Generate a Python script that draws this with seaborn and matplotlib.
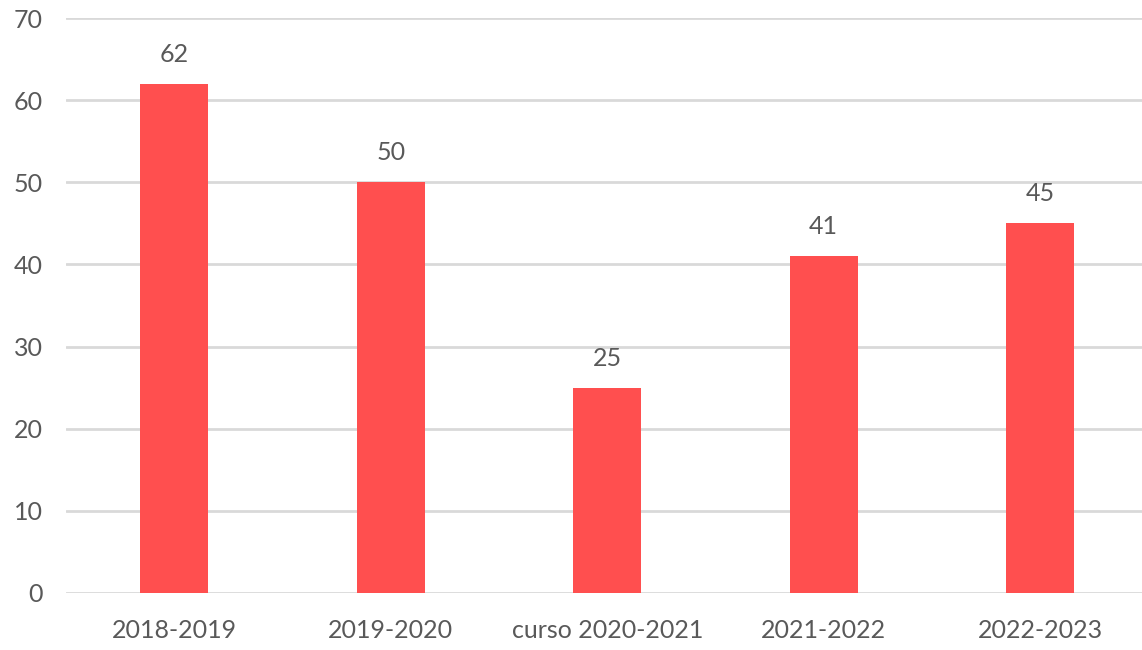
import pandas as pd
import seaborn as sns
import matplotlib.pyplot as plt

sns.set_theme(style='white')
plt.rcParams['font.family'] = ['Lato', 'DejaVu Sans']

cursos = ['2018-2019', '2019-2020', 'curso 2020-2021', '2021-2022', '2022-2023']
valores = [62, 50, 25, 41, 45]

bar_color = '#FF4F4F'
text_color = '#595959'
grid_color = '#D9D9D9'

df = pd.DataFrame({'Curso': cursos, 'Valor': valores})

fig = plt.figure(figsize=(11.42, 6.5), dpi=100)
ax = fig.add_axes([0.058, 0.0877, 0.9475, 0.8846])

sns.barplot(data=df, x='Curso', y='Valor', color=bar_color, width=0.314,
            saturation=1, linewidth=0, ax=ax)

ax.set_ylim(0, 70)
ax.set_yticks(range(0, 71, 10))
ax.set_xlim(-0.5, len(cursos) - 0.5)
ax.yaxis.grid(True, color=grid_color, linewidth=2)
ax.set_axisbelow(True)
for s in ax.spines.values():
    s.set_visible(False)

ax.set_xlabel('')
ax.set_ylabel('')
ax.tick_params(axis='y', length=0, pad=17, labelsize=18, labelcolor=text_color)
ax.tick_params(axis='x', length=0, pad=19, labelsize=18, labelcolor=text_color)

ax.bar_label(ax.containers[0], padding=13, fontsize=18, color=text_color)

fig.savefig('out.png', dpi=100)
